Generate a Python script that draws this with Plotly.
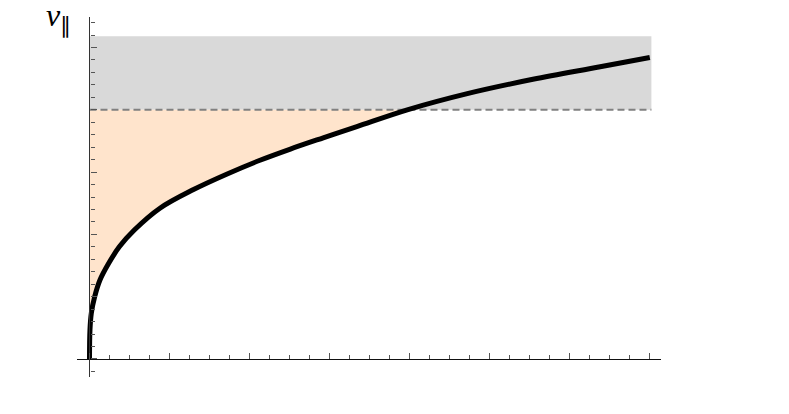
import plotly.graph_objects as go

# Curve samples (x, v_parallel)
curve_x = [0.0, 0.006, 0.0225, 0.065, 0.131, 0.24, 0.3725, 0.56, 0.88, 1.30, 1.72,
           2.13, 2.51, 2.92, 3.34, 3.97, 4.72, 5.54, 6.38, 7.0]
curve_y = [0.0, 0.465, 0.733, 1.0, 1.267, 1.535, 1.80, 2.069, 2.42, 2.72, 2.97,
           3.19, 3.37, 3.55, 3.73, 4.0, 4.26, 4.49, 4.69, 4.84]

threshold = 4.0      # dashed level
band_top = 5.18      # top of grey band
x_end = 7.02         # right end of grey band / dashed line
x_cross = 3.97       # where curve meets threshold

fig = go.Figure()

# grey band
fig.add_shape(type="rect", xref="x", yref="y", x0=0, x1=x_end, y0=threshold, y1=band_top,
              fillcolor="#D9D9D9", line_width=0, layer="below")

# orange region between axis, curve and threshold
sub_x = [x for x in curve_x if x <= x_cross]
sub_y = curve_y[:len(sub_x)]
fill_x = [0.0] + sub_x + [0.0]
fill_y = [threshold] + sub_y + [threshold]
fig.add_trace(go.Scatter(x=fill_x, y=fill_y, fill="toself", mode="none",
                         fillcolor="rgb(255,228,204)",
                         hoverinfo="skip", showlegend=False))

# dashed threshold line
fig.add_trace(go.Scatter(x=[0, x_end], y=[threshold, threshold], mode="lines",
                         line=dict(color="#808080", width=2, dash="7px,4px"),
                         showlegend=False))

# main curve
fig.add_trace(go.Scatter(x=curve_x, y=curve_y, mode="lines",
                         line=dict(color="black", width=5, shape="spline", smoothing=1.0),
                         showlegend=False))

x_range = [-0.156, 7.14]
y_range = [-0.29, 5.49]

fig.update_layout(
    width=789, height=414,
    margin=dict(l=69, r=136, t=9, b=45, autoexpand=False),
    paper_bgcolor="white", plot_bgcolor="white",
    xaxis=dict(range=x_range, showgrid=False, zeroline=False, showline=True,
               linecolor="#111111", linewidth=1.3, showticklabels=False, automargin=False,
               anchor="free", position=(0 - y_range[0]) / (y_range[1] - y_range[0]),
               ticks="inside", tickmode="linear", tick0=0, dtick=1, ticklen=6,
               tickcolor="#555555", tickwidth=1,
               minor=dict(ticks="inside", tick0=0, dtick=0.25, ticklen=3.5,
                          tickcolor="#555555", tickwidth=1, showgrid=False)),
    yaxis=dict(range=y_range, showgrid=False, zeroline=False, showline=True,
               linecolor="#333333", linewidth=1.2, showticklabels=False, automargin=False,
               anchor="free", position=(0 - x_range[0]) / (x_range[1] - x_range[0]),
               ticks="inside", tickmode="linear", tick0=0, dtick=1, ticklen=6,
               tickcolor="#555555", tickwidth=1,
               minor=dict(ticks="inside", tick0=0, dtick=0.2, ticklen=4,
                          tickcolor="#555555", tickwidth=1, showgrid=False)),
    annotations=[dict(text="<i>v</i><sub>∥</sub>", xref="paper", yref="paper",
                      x=-0.056, y=0.998, xanchor="left", yanchor="middle", showarrow=False,
                      font=dict(family="Liberation Serif", size=32, color="black"))],
)

fig.write_html("out.html")
